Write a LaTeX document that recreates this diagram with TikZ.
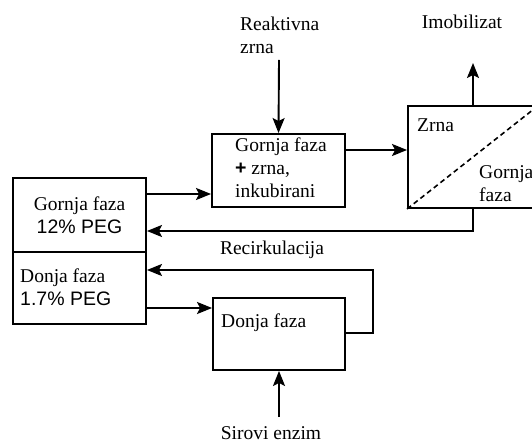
\documentclass[tikz,border=0pt]{standalone}
\usepackage{fontspec}
\setmainfont{Liberation Serif}
\setsansfont{Liberation Sans}
\usetikzlibrary{arrows.meta,positioning}

\tikzset{
  box/.style={draw=black,line width=1.9pt,rectangle,inner sep=0pt,align=center,
    font=\fontsize{19.5}{23}\selectfont},
  arr/.style={draw=black,line width=1.9pt,-{Stealth[length=15pt,width=12pt,inset=3pt]}},
  txt/.style={inner sep=0pt,align=left,font=\fontsize{19.5}{23}\selectfont}
}

\begin{document}
\begin{tikzpicture}[x=1pt,y=-1pt]
\useasboundingbox (0,0) rectangle (532,443);
% boxes:
\node[box,minimum width=133pt,minimum height=74pt] (gornjaL) at (79.5,215) {Gornja faza\\{\sffamily 12\% PEG}};
\node[box,minimum width=133pt,minimum height=72pt] (donjaL) at (79.5,288) {};
\node[box,minimum width=133pt,minimum height=73pt] (inkub) at (278.5,170.5) {};
\node[box,minimum width=130pt,minimum height=102pt] (sep) at (473,157) {};
\node[box,minimum width=132pt,minimum height=72pt] (donja) at (279,334) {};
% texts:
\node[txt,anchor=west] (donjaLt) at (20,287.5) {Donja faza\\{\sffamily 1.7\% PEG}};
\node[txt,anchor=west] (inkubt) at (235,168) {Gornja faza\\{\sffamily\bfseries +} zrna,\\inkubirani};
\node[txt,anchor=west] (zrnat) at (417,125) {Zrna};
\node[txt,anchor=west] (gornjat) at (479,184) {Gornja\\faza};
\node[txt,anchor=west] (donjat) at (221,323) {Donja faza};
\node[txt,anchor=west] (reakt) at (240,35.5) {Reaktivna\\zrna};
\node[txt] (imob) at (462,22) {Imobilizat};
\node[txt] (recirk) at (272,250) {Recirkulacija};
\node[txt] (sirovi) at (271,433) {Sirovi enzim};
% free ends:
\coordinate (rt) at (279,60);
\coordinate (it) at (473,63);
\coordinate (st) at (279,417);
\coordinate (rc) at (373,270);
% connectors:
\draw[dashed,dash pattern=on 5pt off 3.5pt,line width=1.6pt] (sep.south west) -- (sep.north east);
\draw[arr] (rt) -- (inkub.north);
\draw[arr] (inkub.east |- 0,150) -- (sep.west |- 0,150);
\draw[arr] (sep.north) -- (it);
\draw[arr] (sep.south) |- (gornjaL.east |- 0,231);
\draw[arr] (gornjaL.east |- 0,194) -- (inkub.west |- 0,194);
\draw[arr] (donjaL.east |- 0,308) -- (donja.west |- 0,308);
\draw[arr] (donja.east |- 0,333) -| (rc) -- (donjaL.east |- rc);
\draw[arr] (st) -- (donja.south);
\end{tikzpicture}
\end{document}
